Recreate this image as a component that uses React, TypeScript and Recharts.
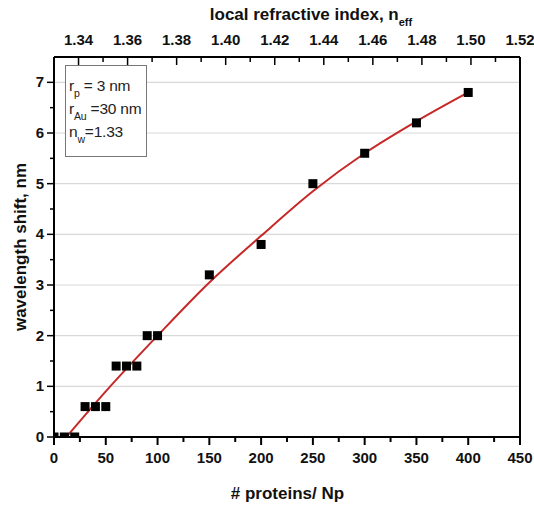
import React from "react";
import { ComposedChart, Line, Scatter, XAxis, YAxis, ReferenceLine } from "recharts";

// measured points: number of proteins per particle vs. plasmon shift
const proteinCounts = [0, 10, 20, 30, 40, 50, 60, 70, 80, 90, 100, 150, 200, 250, 300, 350, 400];
const wavelengthShifts = [0, 0, 0, 0.6, 0.6, 0.6, 1.4, 1.4, 1.4, 2.0, 2.0, 3.2, 3.8, 5.0, 5.6, 6.2, 6.8];

// red fit curve
const fitCounts = [12, 50, 100, 150, 200, 250, 300, 350, 400];
const fitShifts = [0, 0.9, 2.0, 3.05, 3.97, 4.85, 5.6, 6.23, 6.8];

const xTicks = [0, 50, 100, 150, 200, 250, 300, 350, 400, 450];
const yTicks = [0, 1, 2, 3, 4, 5, 6, 7];
const nTicks = [1.34, 1.36, 1.38, 1.4, 1.42, 1.44, 1.46, 1.48, 1.5, 1.52];

const W = 534;
const H = 506;
const PLOT_LEFT = 54;
const PLOT_TOP = 57;
const PLOT_BOTTOM = 437;
const PLOT_RIGHT = 521;
const FONT = "'Liberation Sans', Arial, sans-serif";

const withMinors = (majors: number[], extraStart?: number) => {
  const out = [...majors];
  for (let i = 0; i < majors.length - 1; i++) out.push(+((majors[i] + majors[i + 1]) / 2).toFixed(4));
  if (extraStart !== undefined) out.push(extraStart);
  return out.sort((a, b) => a - b);
};

const xAllTicks = withMinors(xTicks);
const yAllTicks = withMinors(yTicks, 7.5);
const nAllTicks = withMinors(nTicks, 1.33);

const isMajor = (arr: number[], v: number) => arr.some((m) => Math.abs(m - v) < 1e-6);

const BottomTick = (props: any) => {
  const { x, payload } = props;
  const major = isMajor(xTicks, payload.value);
  return (
    <g>
      <line x1={x} x2={x} y1={PLOT_BOTTOM} y2={PLOT_BOTTOM + (major ? 8 : 5)} stroke="#000" strokeWidth={2} />
      {major && (
        <text x={x} y={PLOT_BOTTOM + 26} textAnchor="middle" fontFamily={FONT} fontWeight="bold" fontSize={15} fill="#111">
          {payload.value}
        </text>
      )}
    </g>
  );
};

const TopTick = (props: any) => {
  const { x, payload } = props;
  if (Math.abs(payload.value - 1.33) < 1e-6) return <g />;
  const major = isMajor(nTicks, payload.value);
  return (
    <g>
      <line x1={x} x2={x} y1={PLOT_TOP} y2={PLOT_TOP + (major ? 8 : 5)} stroke="#000" strokeWidth={1.5} />
      {major && (
        <text x={x} y={PLOT_TOP - 12} textAnchor="middle" fontFamily={FONT} fontWeight="bold" fontSize={15} fill="#111">
          {payload.value.toFixed(2)}
        </text>
      )}
    </g>
  );
};

const LeftTick = (props: any) => {
  const { y, payload } = props;
  const major = isMajor(yTicks, payload.value);
  if (payload.value > 7.01) return <g />;
  return (
    <g>
      <line x1={PLOT_LEFT - (major ? 7 : 4)} x2={PLOT_LEFT} y1={y} y2={y} stroke="#000" strokeWidth={1.5} />
      {major && (
        <text x={PLOT_LEFT - 10} y={y + 5} textAnchor="end" fontFamily={FONT} fontWeight="bold" fontSize={15} fill="#111">
          {payload.value}
        </text>
      )}
    </g>
  );
};

const Square = (props: any) => {
  const { cx, cy } = props;
  if (cx == null || cy == null) return <g />;
  return <rect x={cx - 4.5} y={cy - 4.5} width={9} height={9} fill="#000" />;
};

const subStyle: React.CSSProperties = { fontSize: 10.5, position: "relative", top: 6 };

export default function App() {
  const points = proteinCounts.map((x, i) => ({ x, y: wavelengthShifts[i] }));
  const fit = fitCounts.map((x, i) => ({ x, y: fitShifts[i] }));
  // carries the top (refractive index) axis and the right frame axis; not drawn
  const indexAxisCarrier = nTicks.map((n) => ({ x: n, y: 0 }));

  return (
    <div style={{ position: "absolute", left: 0, top: 0, width: W, height: H, background: "#fff" }}>
      <ComposedChart width={W} height={H} margin={{ top: 0, right: W - PLOT_RIGHT, bottom: 0, left: 0 }}>
        <XAxis
          xAxisId={0}
          dataKey="x"
          type="number"
          domain={[0, 450]}
          ticks={xAllTicks}
          interval={0}
          height={H - PLOT_BOTTOM}
          tick={<BottomTick />}
          tickLine={false}
          axisLine={{ stroke: "#000", strokeWidth: 2 }}
          allowDataOverflow
          label={{
            content: () => (
              <text x={(PLOT_LEFT + PLOT_RIGHT) / 2} y={499} textAnchor="middle" fontFamily={FONT} fontWeight="bold" fontSize={17} fill="#111">
                # proteins/ Np
              </text>
            ),
          }}
        />
        <XAxis
          xAxisId="top"
          dataKey="x"
          orientation="top"
          type="number"
          domain={[1.33, 1.52]}
          ticks={nAllTicks}
          interval={0}
          height={PLOT_TOP}
          tick={<TopTick />}
          tickLine={false}
          axisLine={{ stroke: "#000", strokeWidth: 2 }}
          allowDataOverflow
          label={{
            content: () => (
              <text x={311} y={20} textAnchor="middle" fontFamily={FONT} fontWeight="bold" fontSize={17} fill="#111">
                local refractive index, n
                <tspan dy={6} fontSize={11}>eff</tspan>
              </text>
            ),
          }}
        />
        <YAxis
          yAxisId={0}
          dataKey="y"
          type="number"
          domain={[0, 7.5]}
          ticks={yAllTicks}
          interval={0}
          width={PLOT_LEFT}
          tick={<LeftTick />}
          tickLine={false}
          axisLine={{ stroke: "#000", strokeWidth: 2 }}
          allowDataOverflow
          label={{
            content: () => (
              <text
                x={26}
                y={(PLOT_TOP + PLOT_BOTTOM) / 2}
                transform={`rotate(-90 26 ${(PLOT_TOP + PLOT_BOTTOM) / 2})`}
                textAnchor="middle"
                fontFamily={FONT}
                fontWeight="bold"
                fontSize={17}
                fill="#111"
              >
                wavelength shift, nm
              </text>
            ),
          }}
        />
        <YAxis
          yAxisId="right"
          dataKey="y"
          orientation="right"
          type="number"
          domain={[0, 7.5]}
          width={1}
          tick={false}
          tickLine={false}
          axisLine={{ stroke: "#000", strokeWidth: 2 }}
          allowDataOverflow
        />
        {yTicks.filter((v) => v > 0).map((v) => (
          <ReferenceLine key={v} y={v} yAxisId={0} xAxisId={0} stroke="#d8d8d8" strokeWidth={1.2} />
        ))}
        <Line
          data={indexAxisCarrier}
          dataKey="y"
          xAxisId="top"
          yAxisId="right"
          stroke="none"
          strokeWidth={0}
          dot={false}
          activeDot={false}
          legendType="none"
          isAnimationActive={false}
        />
        <Line
          data={fit}
          dataKey="y"
          xAxisId={0}
          yAxisId={0}
          type="monotone"
          stroke="#c62828"
          strokeWidth={2}
          dot={false}
          activeDot={false}
          isAnimationActive={false}
        />
        <Scatter data={points} dataKey="y" xAxisId={0} yAxisId={0} fill="#000" shape={<Square />} isAnimationActive={false} />
      </ComposedChart>
      <div
        style={{
          position: "absolute",
          left: 65,
          top: 65,
          width: 82,
          height: 92,
          boxSizing: "border-box",
          border: "1px solid #777",
          background: "#fff",
          fontFamily: FONT,
          fontSize: 15.5,
          color: "#222",
          paddingLeft: 3,
          paddingTop: 9,
          lineHeight: "21px",
          whiteSpace: "nowrap",
          letterSpacing: -0.2,
        }}
      >
        <div>
          r<span style={subStyle}>p</span> = 3 nm
        </div>
        <div>
          r<span style={subStyle}>Au</span> =30 nm
        </div>
        <div>
          n<span style={subStyle}>w</span>=1.33
        </div>
      </div>
    </div>
  );
}
